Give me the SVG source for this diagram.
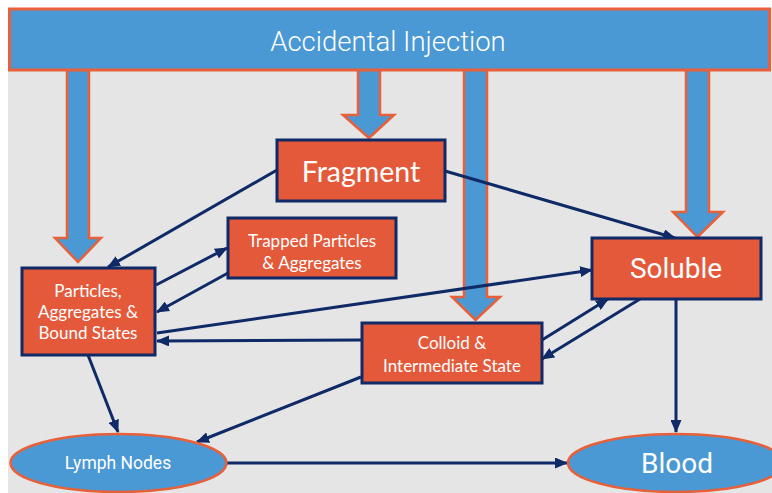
<svg xmlns="http://www.w3.org/2000/svg" width="772" height="493" viewBox="0 0 772 493">
<defs>
<style>
.box{fill:#e4593a;stroke:#0f2a66;stroke-width:3}
.ell{fill:#4a98d4;stroke:#e8603a;stroke-width:2.5}
.blk{fill:#4a98d4;stroke:#e8603a;stroke-width:2.5;stroke-linejoin:miter}
.con{fill:none;stroke:#0f2a66;stroke-width:3;marker-end:url(#ah)}
.t{fill:#ffffff;text-anchor:middle}
.lato{font-family:Lato,"Liberation Sans",sans-serif}
.rob{font-family:Roboto,"Liberation Sans",sans-serif}
</style>
<marker id="ah" markerUnits="userSpaceOnUse" markerWidth="13" markerHeight="11" refX="12" refY="5.5" orient="auto">
<path d="M0,0 L13,5.5 L0,11 z" fill="#0f2a66"/>
</marker>
</defs>
<rect x="0" y="0" width="772" height="493" fill="#ffffff"/>
<rect x="8" y="8" width="764" height="485" fill="#e5e5e5"/>

<g id="block-arrows">
<polygon class="blk" points="67,68 89,68 89,238 101,238 78,262 55,238 67,238"/>
<polygon class="blk" points="358,68 380,68 380,115 394,115 369,138 343,115 358,115"/>
<polygon class="blk" points="464,68 487,68 487,297 500,297 475.5,320 452,297 464,297"/>
<polygon class="blk" points="686,68 709,68 709,212 723,212 697.5,237 673,212 686,212"/>
</g>

<g id="accidental-injection">
<rect x="9.5" y="9" width="760" height="61" fill="#4a98d4" stroke="#e8603a" stroke-width="3"/>
<text class="t rob" x="388" y="51" font-size="27.5" font-weight="300">Accidental Injection</text>
</g>

<g id="connectors">
<line class="con" x1="277" y1="170" x2="108" y2="267"/>
<line class="con" x1="156" y1="285" x2="227" y2="248"/>
<line class="con" x1="228" y1="273" x2="157" y2="312"/>
<line class="con" x1="157" y1="333" x2="592" y2="270"/>
<line class="con" x1="362" y1="340" x2="157" y2="341"/>
<line class="con" x1="445" y1="171" x2="675" y2="238"/>
<line class="con" x1="542" y1="340" x2="608" y2="299"/>
<line class="con" x1="640" y1="299" x2="542" y2="359"/>
<line class="con" x1="676" y1="299" x2="676" y2="432"/>
<line class="con" x1="88" y1="355" x2="118" y2="432"/>
<line class="con" x1="361" y1="377" x2="197" y2="442"/>
<line class="con" x1="227" y1="463" x2="567" y2="463"/>
</g>

<g id="fragment">
<rect class="box" x="277" y="140" width="168" height="61"/>
<text class="t lato" x="361" y="182" font-size="28.5">Fragment</text>
</g>

<g id="trapped">
<rect class="box" x="228" y="218" width="168" height="60"/>
<text class="t lato" x="312" y="247" font-size="17">Trapped Particles</text>
<text class="t lato" x="312" y="269" font-size="17">&amp; Aggregates</text>
</g>

<g id="particles">
<rect class="box" x="22" y="268" width="133" height="87"/>
<text class="t lato" x="88" y="297" font-size="17">Particles,</text>
<text class="t lato" x="88" y="318" font-size="17">Aggregates &amp;</text>
<text class="t lato" x="88" y="339" font-size="17">Bound States</text>
</g>

<g id="soluble">
<rect class="box" x="592" y="238" width="169" height="61"/>
<text class="t rob" x="676" y="278" font-size="28">Soluble</text>
</g>

<g id="colloid">
<rect class="box" x="362" y="323" width="180" height="60"/>
<text class="t lato" x="452" y="349" font-size="17">Colloid &amp;</text>
<text class="t lato" x="452" y="372" font-size="17">Intermediate State</text>
</g>

<g id="lymph">
<ellipse class="ell" cx="118.5" cy="463" rx="108" ry="29"/>
<text class="t rob" x="118" y="469" font-size="17.5">Lymph Nodes</text>
</g>

<g id="blood">
<ellipse class="ell" cx="676" cy="463" rx="108" ry="29"/>
<text class="t rob" x="677" y="473" font-size="28">Blood</text>
</g>
</svg>
